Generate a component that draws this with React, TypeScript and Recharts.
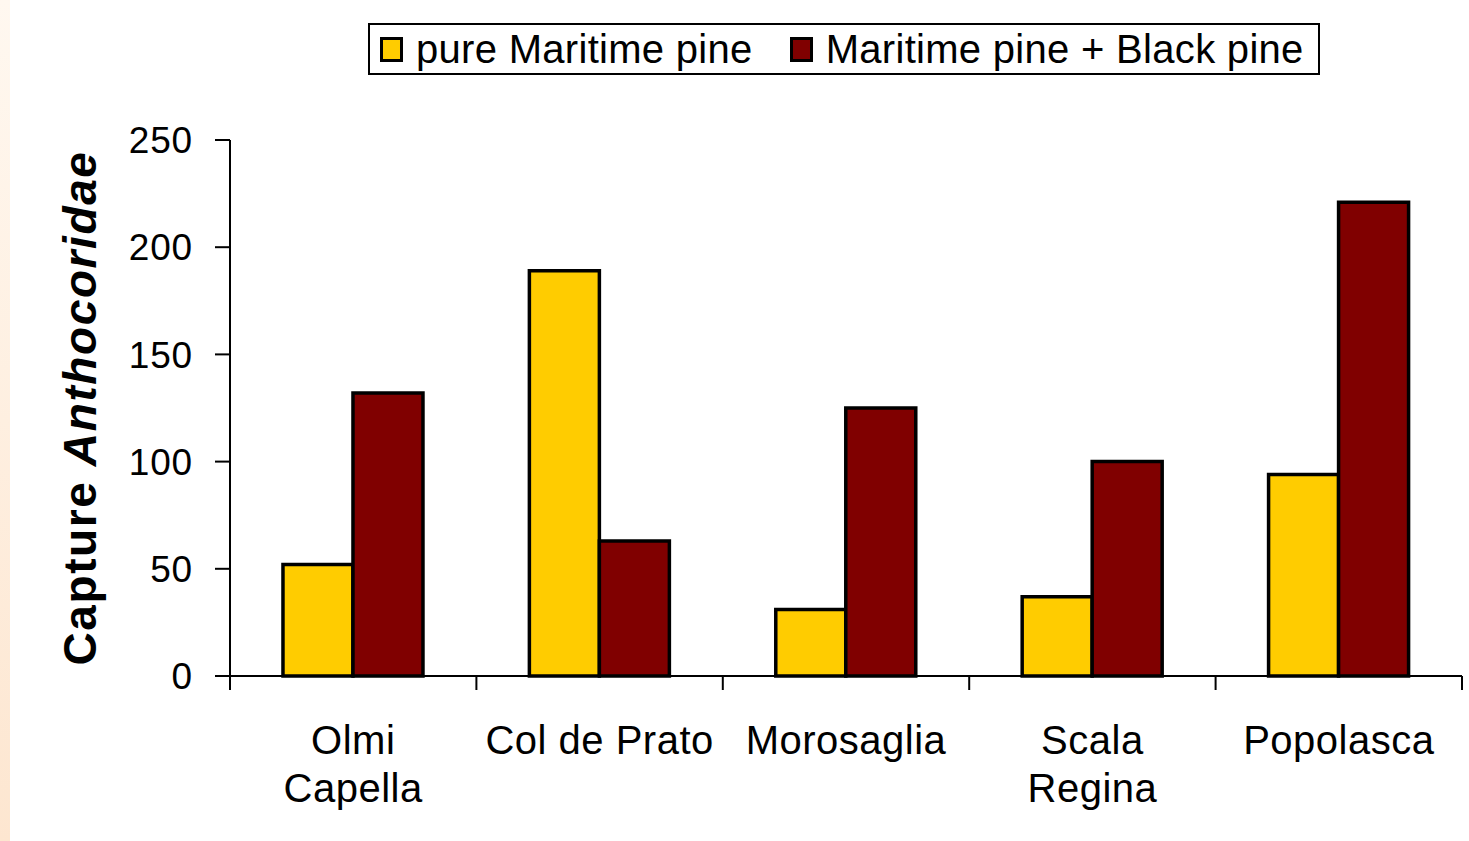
import { BarChart, Bar, XAxis, YAxis } from "recharts";

const sites = ["Olmi\nCapella", "Col de Prato", "Morosaglia", "Scala\nRegina", "Popolasca"];
const pureMaritime = [52, 189, 31, 37, 94];
const maritimeBlack = [132, 63, 125, 100, 221];
const seriesNames = ["pure Maritime pine", "Maritime pine + Black pine"];
const seriesColors = ["#FFCC00", "#800000"];
const yTicks = [0, 50, 100, 150, 200, 250];

const data = sites.map((site, i) => ({
  site,
  pure: pureMaritime[i],
  mixed: maritimeBlack[i],
}));

const W = 1469;
const H = 841;
const MARGIN = { top: 140, right: 7, bottom: 45, left: 0 };
const Y_AXIS_W = 230;
const BAND = (W - MARGIN.left - MARGIN.right - Y_AXIS_W) / sites.length;
const FONT = '"Liberation Sans", Arial, Helvetica, sans-serif';

// category labels plus tick marks at the band edges
const SiteTick = (props: any) => {
  const { x, y, payload, index } = props;
  const lines = String(payload.value).split("\n");
  const half = BAND / 2;
  return (
    <g>
      <line x1={x - half} x2={x - half} y1={y} y2={y + 14} stroke="#000" strokeWidth={2} />
      {index === sites.length - 1 && (
        <line x1={x + half} x2={x + half} y1={y} y2={y + 14} stroke="#000" strokeWidth={2} />
      )}
      <text
        x={x}
        y={y + 78}
        textAnchor="middle"
        fontSize={40}
        letterSpacing={0.5}
        fontFamily={FONT}
        fill="#000"
      >
        {lines.map((ln, i) => (
          <tspan key={i} x={x} dy={i === 0 ? 0 : 48}>
            {ln}
          </tspan>
        ))}
      </text>
    </g>
  );
};

const YTitle = (props: any) => {
  const vb = props.viewBox || { x: 0, y: MARGIN.top, height: 536 };
  const cx = vb.x + 96;
  const cy = vb.y + vb.height / 2;
  return (
    <text
      transform={`translate(${cx}, ${cy}) rotate(-90)`}
      textAnchor="middle"
      fontSize={46}
      fontWeight="bold"
      letterSpacing={1.6}
      fontFamily={FONT}
      fill="#000"
    >
      Capture <tspan fontStyle="italic">Anthocoridae</tspan>
    </text>
  );
};

export default function App() {
  return (
    <div
      style={{
        position: "absolute",
        left: 0,
        top: 0,
        width: W,
        height: H,
        background: "#fff",
        fontFamily: FONT,
        overflow: "hidden",
      }}
    >
      <div
        style={{
          position: "absolute",
          left: 0,
          top: 0,
          width: 10,
          height: H,
          background: "linear-gradient(#FFF8F0, #FDE6D0)",
        }}
      />
      <div
        style={{
          position: "absolute",
          left: 368,
          top: 23,
          width: 952,
          height: 52,
          border: "2px solid #000",
          boxSizing: "border-box",
          display: "flex",
          alignItems: "center",
          paddingLeft: 10,
          fontSize: 40,
          letterSpacing: 0.3,
          color: "#000",
        }}
      >
        {seriesNames.map((name, i) => (
          <div key={name} style={{ display: "flex", alignItems: "center", marginRight: i === 0 ? 37 : 0 }}>
            <span
              style={{
                display: "inline-block",
                width: 23,
                height: 25,
                boxSizing: "border-box",
                border: "3.5px solid #000",
                background: seriesColors[i],
                marginRight: 13,
              }}
            />
            <span style={{ whiteSpace: "nowrap" }}>{name}</span>
          </div>
        ))}
      </div>
      <div style={{ position: "absolute", left: 0, top: 0 }}>
        <BarChart width={W} height={H} data={data} margin={MARGIN} barCategoryGap="21.5%" barGap={0}>
          <XAxis
            dataKey="site"
            height={120}
            interval={0}
            tickSize={0}
            tickMargin={0}
            tickLine={false}
            axisLine={{ stroke: "#000", strokeWidth: 2 }}
            tick={<SiteTick />}
          />
          <YAxis
            width={Y_AXIS_W}
            domain={[0, 250]}
            ticks={yTicks}
            interval={0}
            tickSize={15}
            tickMargin={22}
            axisLine={{ stroke: "#000", strokeWidth: 2 }}
            tickLine={{ stroke: "#000", strokeWidth: 2 }}
            tick={{ fill: "#000", fontSize: 37, fontFamily: FONT, letterSpacing: 0.8 }}
            label={<YTitle />}
          />
          <Bar dataKey="pure" name={seriesNames[0]} fill={seriesColors[0]} stroke="#000" strokeWidth={3.5} isAnimationActive={false} />
          <Bar dataKey="mixed" name={seriesNames[1]} fill={seriesColors[1]} stroke="#000" strokeWidth={3.5} isAnimationActive={false} />
        </BarChart>
      </div>
    </div>
  );
}
